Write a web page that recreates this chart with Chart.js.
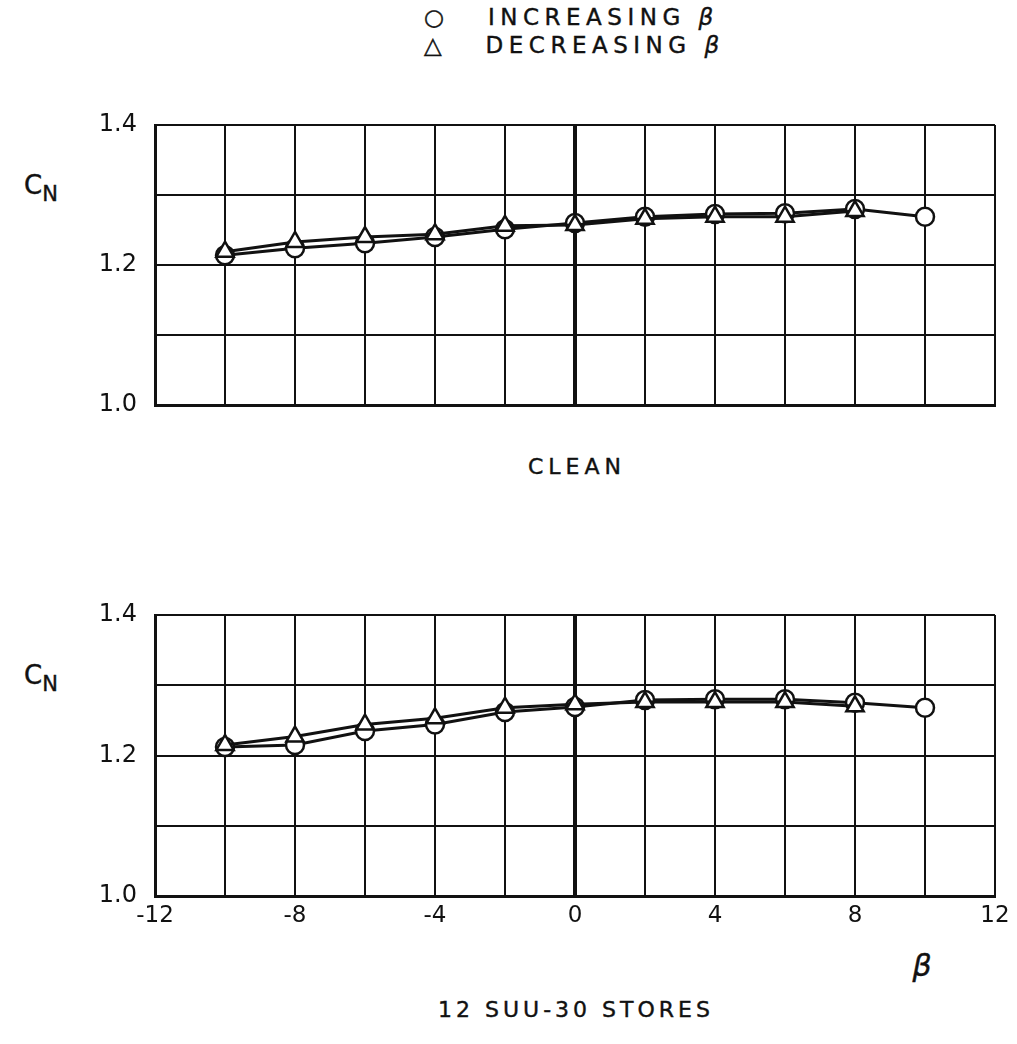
<!DOCTYPE html>
<html>
<head>
<meta charset="utf-8">
<script src="https://cdn.jsdelivr.net/npm/chart.js@4"></script>
<style>
  body { margin: 0; background: #fff; width: 1017px; height: 1044px; position: relative; overflow: hidden; font-family: "DejaVu Sans", sans-serif; color: #111; }
  canvas { position: absolute; left: 0; }
  .lbl { position: absolute; transform: translate(-50%, -50%); white-space: nowrap; letter-spacing: 4px; font-size: 22px; -webkit-text-stroke: 0.4px #111; }
  .leg { position: absolute; white-space: nowrap; letter-spacing: 5.5px; font-size: 23px; -webkit-text-stroke: 0.4px #111; }
  .cn { position: absolute; font-size: 26px; -webkit-text-stroke: 0.4px #111; }
  .cn sub { font-size: 21px; vertical-align: -7px; }
</style>
</head>
<body>
<div class="leg" style="left:424px; top:4px;">○&nbsp;&nbsp;&nbsp;INCREASING <i>β</i></div>
<div class="leg" style="left:424px; top:32px;">△&nbsp;&nbsp;&nbsp;DECREASING <i>β</i></div>
<div class="cn" style="left:24px; top:170px;">C<sub>N</sub></div>
<div class="cn" style="left:24px; top:660px;">C<sub>N</sub></div>
<div class="lbl" style="left:577px; top:466px; letter-spacing:5px;">CLEAN</div>
<div class="lbl" style="left:924px; top:965px; font-size:30px; font-style:italic;">β</div>
<div class="lbl" style="left:576px; top:1009px;">12 SUU-30 STORES</div>
<canvas id="clean" width="1017" height="500" style="top:0;"></canvas>
<canvas id="stores" width="1017" height="554" style="top:490px;"></canvas>
<script>
(function () {
    "use strict";

    // sideslip angle beta, deg
    var betaValues = [-10, -8, -6, -4, -2, 0, 2, 4, 6, 8, 10];

    // clean configuration
    var cleanIncreasing = [1.214, 1.224, 1.231, 1.240, 1.251, 1.260, 1.269, 1.273, 1.274, 1.280, 1.269];
    var cleanDecreasing = [1.219, 1.233, 1.240, 1.244, 1.256, 1.257, 1.266, 1.269, 1.269, 1.277];

    // 12 SUU-30 stores
    var storesIncreasing = [1.212, 1.215, 1.235, 1.244, 1.262, 1.269, 1.279, 1.280, 1.280, 1.275, 1.268];
    var storesDecreasing = [1.215, 1.227, 1.244, 1.253, 1.268, 1.273, 1.276, 1.276, 1.276, 1.270];

    var xTickLabels = [-12, -8, -4, 0, 4, 8, 12];
    var yTickLabels = [1.0, 1.2, 1.4];

    function pts(values) {
        return values.map(function (v, i) { return { x: betaValues[i], y: v }; });
    }

    function makeChart(id, inc, dec, showX, xHeight) {
        var ctx = document.getElementById(id).getContext("2d");
        return new Chart(ctx, {
            type: "scatter",
            data: {
                datasets: [{
                    label: "INCREASING β",
                    data: pts(inc),
                    order: 2,
                    showLine: true,
                    borderColor: "#111",
                    borderWidth: 3,
                    pointStyle: "circle",
                    pointRadius: 9,
                    pointBackgroundColor: "#fff",
                    pointBorderColor: "#111",
                    pointBorderWidth: 2.5
                },
                {
                    label: "DECREASING β",
                    data: pts(dec),
                    order: 1,
                    showLine: true,
                    borderColor: "#111",
                    borderWidth: 3,
                    pointStyle: "triangle",
                    pointRadius: 10,
                    pointBackgroundColor: "#fff",
                    pointBorderColor: "#111",
                    pointBorderWidth: 2.5
                }]
            },
            options: {
                responsive: false,
                animation: false,
                layout: { padding: { top: 125, right: 22, left: 0, bottom: 0 } },
                plugins: { legend: { display: false }, tooltip: { enabled: false } },
                scales: {
                    x: {
                        type: "linear",
                        min: -12,
                        max: 12,
                        afterFit: function (s) { s.height = xHeight; },
                        ticks: {
                            display: showX,
                            stepSize: 2,
                            padding: 6,
                            color: "#111",
                            font: { family: "DejaVu Sans", size: 23 },
                            callback: function (v) { return xTickLabels.indexOf(v) >= 0 ? String(v) : ""; }
                        },
                        grid: {
                            color: "#111",
                            drawTicks: false,
                            lineWidth: function (c) { return c.tick && c.tick.value === 0 ? 4 : 2; }
                        },
                        border: { color: "#111", width: 3 }
                    },
                    y: {
                        min: 1.0,
                        max: 1.4,
                        afterFit: function (s) { s.width = 155; },
                        ticks: {
                            stepSize: 0.1,
                            padding: 18,
                            color: "#111",
                            font: { family: "DejaVu Sans", size: 24 },
                            callback: function (v) {
                                var r = Math.round(v * 10) / 10;
                                return yTickLabels.indexOf(r) >= 0 ? r.toFixed(1) : "";
                            }
                        },
                        grid: { color: "#111", drawTicks: false, lineWidth: 2 },
                        border: { color: "#111", width: 3 }
                    }
                }
            }
        });
    }

    makeChart("clean", cleanIncreasing, cleanDecreasing, false, 95);
    makeChart("stores", storesIncreasing, storesDecreasing, true, 148);
})();
</script>
</body>
</html>
